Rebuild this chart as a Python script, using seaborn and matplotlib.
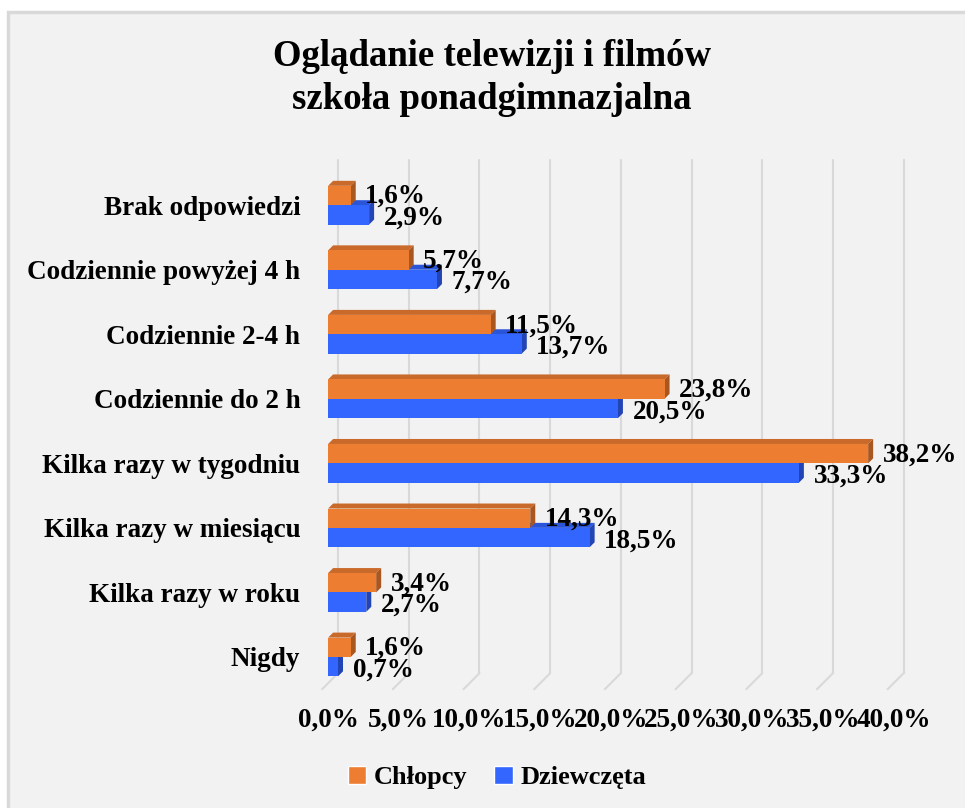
import pandas as pd
import matplotlib.pyplot as plt
import seaborn as sns
from matplotlib.patches import Rectangle, Polygon, Patch
from matplotlib import transforms

categories = ['Brak odpowiedzi', 'Codziennie powyżej 4 h', 'Codziennie 2-4 h',
              'Codziennie do 2 h', 'Kilka razy w tygodniu', 'Kilka razy w miesiącu',
              'Kilka razy w roku', 'Nigdy']
chlopcy = [1.6, 5.7, 11.5, 23.8, 38.2, 14.3, 3.4, 1.6]
dziewczeta = [2.9, 7.7, 13.7, 20.5, 33.3, 18.5, 2.7, 0.7]
groups = ['Chłopcy', 'Dziewczęta']
x_ticks = [0, 5, 10, 15, 20, 25, 30, 35, 40]

orange, blue = '#ED7D31', '#3366FF'
side = {orange: '#A9561F', blue: '#2244B4'}
top = {orange: '#C96A2A', blue: '#2B55D8'}

sns.set_style('white')
plt.rcParams['font.family'] = ['Liberation Serif', 'DejaVu Serif']
plt.rcParams['font.weight'] = 'bold'
plt.rcParams['text.color'] = 'black'
plt.rcParams['xtick.color'] = 'black'
plt.rcParams['ytick.color'] = 'black'

df = pd.DataFrame({
    'kategoria': categories * 2,
    'grupa': [groups[0]] * len(categories) + [groups[1]] * len(categories),
    'procent': chlopcy + dziewczeta,
})

fig = plt.figure(figsize=(9.65, 8.08), dpi=100, facecolor='white')
fig.patches.append(Rectangle((8 / 965, -0.01), 1.0, 0.985 + 0.01, transform=fig.transFigure,
                             facecolor='#f2f2f2', edgecolor='#d9d9d9', linewidth=2.5, zorder=-10))
ax = fig.add_axes([0.340, 0.147, 0.586, 0.639])
ax.set_facecolor('none')

sns.barplot(data=df, y='kategoria', x='procent', hue='grupa', orient='h',
            palette=[orange, blue], width=0.6, legend=False, ax=ax,
            saturation=1, linewidth=0, zorder=3)

ax.set_xlim(0, 40)
ax.set_ylim(len(categories) - 0.5, -0.5)
ax.set_xticks(x_ticks)
ax.set_xticklabels([f'{t:.1f}%'.replace('.', ',') for t in x_ticks], fontsize=19.5, fontweight='bold')
ax.tick_params(axis='x', length=0, pad=13)
ax.tick_params(axis='y', length=0, pad=20, labelsize=19.5)
for lbl in ax.get_yticklabels():
    lbl.set_fontweight('bold')
ax.set_xlabel('')
ax.set_ylabel('')
for s in ax.spines.values():
    s.set_visible(False)

# back wall gridlines with 3D floor slant
back = transforms.offset_copy(ax.get_xaxis_transform(), fig=fig, x=10, y=0, units='dots')
floor = transforms.offset_copy(ax.get_xaxis_transform(), fig=fig, x=-6, y=0, units='dots')
for t in x_ticks:
    ax.plot([t, t], [1.025, 0.031], transform=back, color='#d9d9d9', lw=1.5, zorder=1, clip_on=False)
    ax.plot([t + 16 / 14.14, t], [0.031, 0.0], transform=floor, color='#d9d9d9', lw=1.5, zorder=1,
            clip_on=False)

# 3D side and top faces for the bars
dx_px, dy_px = 5, 5
inv = ax.transData.inverted()
p0 = ax.transData.transform((0, 0))
p1 = inv.transform((p0[0] + dx_px, p0[1] + dy_px))
dx, dy = p1[0], p1[1]  # dy negative in data units (inverted axis)

bars = list(ax.patches)
for i, b in enumerate(bars):
    col = orange if i < len(categories) else blue
    z = 4 if col == orange else 2
    b.set_zorder(z + 0.5)
    x, y, w, h = b.get_x(), b.get_y(), b.get_width(), b.get_height()
    ax.add_patch(Polygon([(x, y), (x + w, y), (x + w + dx, y + dy), (x + dx, y + dy)],
                         closed=True, facecolor=top[col], edgecolor='none', zorder=z))
    ax.add_patch(Polygon([(x + w, y), (x + w + dx, y + dy), (x + w + dx, y + h + dy), (x + w, y + h)],
                         closed=True, facecolor=side[col], edgecolor='none', zorder=z))
    yc = y + h / 2
    ax.annotate(f'{w:.1f}%'.replace('.', ','), (x + w, yc),
                xytext=(10.5, -5.5 if col == orange else -7),
                textcoords='offset points', ha='left', va='baseline', fontsize=19.5,
                fontweight='bold', zorder=6)

fig.text(0.51, 0.903, 'Oglądanie telewizji i filmów\nszkoła ponadgimnazjalna', ha='center',
         va='center', fontsize=26.5, fontweight='bold', linespacing=1.3)

handles = [Patch(facecolor=orange, label=groups[0]), Patch(facecolor=blue, label=groups[1])]
fig.legend(handles=handles, loc='center', bbox_to_anchor=(0.515, 0.038), ncol=2, frameon=False,
           fontsize=19, handlelength=0.7, handleheight=0.7, handletextpad=0.3, columnspacing=1.0)

fig.savefig('out.png', dpi=100, facecolor=fig.get_facecolor())
